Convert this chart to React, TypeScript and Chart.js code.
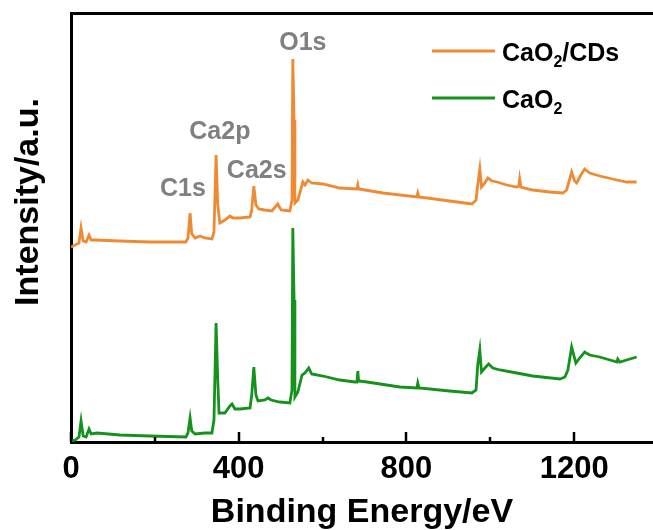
import React, { useEffect, useRef } from 'react';
import { Chart, registerables } from 'chart.js';

Chart.register(...registerables);

const FONT = "'Liberation Sans', Arial, sans-serif";

// CaO2/CDs spectrum (binding energy in eV, intensity in a.u.)
const cdsEnergy = [0, 10, 19, 24, 29, 36, 43, 48, 57, 117, 188, 274, 279, 284, 288, 296, 308, 319, 336, 341, 346, 350, 355, 367, 379, 386, 403, 427, 431, 436, 441, 448, 462, 479, 493, 501, 522, 527, 529, 532, 534, 541, 553, 558, 565, 574, 601, 641, 682, 684, 686, 744, 825, 827, 830, 903, 956, 966, 970, 975, 979, 987, 994, 1004, 1016, 1039, 1063, 1068, 1070, 1073, 1101, 1142, 1173, 1182, 1194, 1201, 1206, 1216, 1225, 1237, 1261, 1302, 1325, 1349];
const cdsIntensity = [195, 197, 199, 214, 201, 200, 207, 202, 202, 201, 200, 200, 204, 229, 208, 204, 206, 204, 203, 210, 287, 237, 219, 222, 226, 224, 224, 225, 232, 256, 237, 233, 232, 231, 238, 232, 231, 242, 383, 322, 239, 242, 260, 257, 262, 259, 258, 254, 253, 257, 253, 249, 245, 249, 245, 241, 238, 242, 257, 273, 255, 259, 264, 261, 260, 257, 255, 256, 263, 255, 252, 250, 249, 252, 270, 261, 259, 267, 273, 269, 266, 262, 260, 260];

// CaO2 spectrum
const caoEnergy = [0, 10, 19, 24, 29, 36, 43, 48, 62, 117, 188, 274, 279, 284, 288, 296, 319, 336, 341, 346, 350, 353, 367, 379, 384, 391, 403, 427, 431, 436, 441, 446, 462, 470, 477, 498, 522, 527, 529, 532, 534, 541, 551, 558, 567, 574, 601, 641, 677, 682, 684, 686, 706, 784, 825, 827, 830, 903, 956, 966, 970, 975, 979, 987, 996, 1006, 1023, 1063, 1101, 1166, 1178, 1185, 1194, 1204, 1213, 1225, 1237, 1261, 1302, 1304, 1309, 1325, 1349];
const caoIntensity = [1, 2, 5, 21, 6, 5, 13, 8, 9, 7, 6, 5, 9, 24, 11, 8, 9, 9, 22, 119, 62, 29, 29, 36, 38, 33, 33, 34, 47, 75, 47, 41, 42, 44, 42, 40, 39, 52, 214, 142, 45, 50, 67, 69, 74, 68, 66, 62, 60, 60, 71, 61, 60, 55, 54, 59, 54, 51, 49, 52, 77, 92, 70, 74, 78, 74, 72, 69, 66, 63, 65, 72, 95, 79, 84, 90, 87, 85, 80, 83, 80, 82, 85];

const seriesLabels = ['CaO2/CDs', 'CaO2'];
const seriesColors = ['#EF8A33', '#15921B'];

const majorTicks = [0, 400, 800, 1200];
const minorTicks = [200, 600, 1000];

const peakNames = ['O1s', 'Ca2p', 'Ca2s', 'C1s'];
const peakEnergies = [553, 355, 443, 267];
const peakIntensities = [399, 310, 271, 253];

const xMin = 0;
const xMax = 1388;
const yMin = 0;
const yMax = 429;

const drawSubText = (ctx: CanvasRenderingContext2D, text: string, x: number, y: number, size: number) => {
  const parts = text.split(/(\d)/);
  let cx = x;
  parts.forEach((p, i) => {
    if (!p) return;
    const isSub = i % 2 === 1;
    ctx.font = `bold ${isSub ? Math.round(size * 0.64) : size}px ${FONT}`;
    ctx.fillText(p, cx, isSub ? y + 6 : y);
    cx += ctx.measureText(p).width;
  });
};

const extrasPlugin = {
  id: 'extras',
  afterDraw(chart: any) {
    const { ctx, chartArea } = chart;
    const xs = chart.scales.x;
    const ys = chart.scales.y;
    ctx.save();
    // inward ticks
    ctx.strokeStyle = '#000';
    ctx.lineWidth = 2.5;
    minorTicks.forEach((v) => {
      const px = Math.round(xs.getPixelForValue(v));
      ctx.beginPath();
      ctx.moveTo(px, chartArea.bottom);
      ctx.lineTo(px, chartArea.bottom - 5);
      ctx.stroke();
    });
    majorTicks.forEach((v) => {
      const px = Math.round(xs.getPixelForValue(v));
      ctx.beginPath();
      ctx.moveTo(px, chartArea.bottom);
      ctx.lineTo(px, chartArea.bottom - 10);
      ctx.stroke();
    });
    // peak labels
    ctx.fillStyle = '#808080';
    ctx.font = `bold 25px ${FONT}`;
    ctx.textAlign = 'center';
    ctx.textBaseline = 'middle';
    peakNames.forEach((name, i) => {
      ctx.fillText(name, xs.getPixelForValue(peakEnergies[i]), ys.getPixelForValue(peakIntensities[i]));
    });
    // legend
    ctx.textAlign = 'left';
    ctx.textBaseline = 'alphabetic';
    chart.data.datasets.forEach((ds: any, i: number) => {
      const ly = 51 + i * 47;
      ctx.strokeStyle = ds.borderColor;
      ctx.lineWidth = 3;
      ctx.beginPath();
      ctx.moveTo(432, ly);
      ctx.lineTo(495, ly);
      ctx.stroke();
      ctx.fillStyle = '#000';
      drawSubText(ctx, ds.label, 502, ly + 10, 25);
    });
    // y axis title
    ctx.fillStyle = '#000';
    ctx.font = `bold 34px ${FONT}`;
    ctx.textAlign = 'center';
    ctx.textBaseline = 'middle';
    ctx.translate(29, 202);
    ctx.rotate(-Math.PI / 2);
    ctx.fillText('Intensity/a.u.', 0, 0);
    ctx.restore();
  },
};

export default function App() {
  const ref = useRef<HTMLCanvasElement | null>(null);
  useEffect(() => {
    if (!ref.current) return;
    const toPoints = (xs: number[], ys: number[]) => xs.map((x, i) => ({ x, y: ys[i] }));
    const chart = new Chart(ref.current, {
      type: 'line',
      data: {
        datasets: [
          {
            label: seriesLabels[0],
            data: toPoints(cdsEnergy, cdsIntensity),
            borderColor: seriesColors[0],
            backgroundColor: seriesColors[0],
            borderWidth: 2.8,
            pointRadius: 0,
            tension: 0,
          },
          {
            label: seriesLabels[1],
            data: toPoints(caoEnergy, caoIntensity),
            borderColor: seriesColors[1],
            backgroundColor: seriesColors[1],
            borderWidth: 2.8,
            pointRadius: 0,
            tension: 0,
          },
        ],
      },
      options: {
        responsive: false,
        animation: false,
        events: [],
        layout: { padding: 0 },
        plugins: { legend: { display: false }, tooltip: { enabled: false }, title: { display: false } },
        scales: {
          x: {
            type: 'linear',
            position: 'bottom',
            min: xMin,
            max: xMax,
            grid: { display: false, drawTicks: false },
            border: { display: true, color: '#000', width: 3 },
            afterBuildTicks: (s: any) => {
              s.ticks = majorTicks.map((v) => ({ value: v }));
            },
            ticks: {
              padding: 9,
              color: '#000',
              font: { family: FONT, size: 31, weight: 'bold' },
              maxRotation: 0,
              minRotation: 0,
              autoSkip: false,
              callback: (v: any) => String(v),
            },
            title: {
              display: true,
              text: 'Binding Energy/eV',
              color: '#000',
              font: { family: FONT, size: 34, weight: 'bold', lineHeight: 1 },
              padding: { top: 0, bottom: 0 },
            },
            afterFit: (s: any) => { s.height = 88; },
          },
          x2: {
            type: 'linear',
            position: 'top',
            min: xMin,
            max: xMax,
            grid: { display: false, drawTicks: false },
            border: { display: true, color: '#000', width: 3 },
            ticks: { display: false },
            afterFit: (s: any) => { s.height = 13; },
          },
          y: {
            type: 'linear',
            min: yMin,
            max: yMax,
            grid: { display: false, drawTicks: false },
            border: { display: true, color: '#000', width: 3 },
            ticks: { display: false },
            afterFit: (s: any) => { s.width = 71; },
          },
        },
      },
      plugins: [extrasPlugin],
    } as any);
    return () => chart.destroy();
  }, []);
  return (
    <div style={{ position: 'absolute', left: 0, top: 0, width: 653, height: 530, overflow: 'hidden', background: '#fff' }}>
      <canvas ref={ref} width={653} height={530} style={{ width: 653, height: 530, display: 'block' }} />
    </div>
  );
}
